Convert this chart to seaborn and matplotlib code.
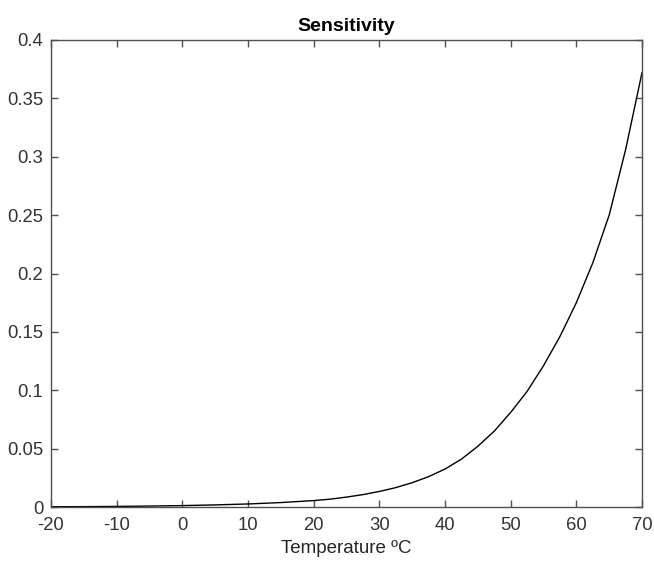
import matplotlib
matplotlib.use("Agg")
import matplotlib.pyplot as plt
import seaborn as sns
import pandas as pd

temperature = [-20, -15, -10, -5, 0, 5, 10, 15, 20, 22.5, 25, 27.5, 30, 32.5, 35, 37.5,
               40, 42.5, 45, 47.5, 50, 52.5, 55, 57.5, 60, 62.5, 65, 67.5, 70]
sensitivity = [0.0002, 0.0003, 0.0005, 0.0008, 0.0012, 0.0018, 0.0026, 0.0038, 0.0055,
               0.0067, 0.0085, 0.0106, 0.0133, 0.0166, 0.0208, 0.026, 0.0325, 0.041,
               0.052, 0.065, 0.081, 0.099, 0.121, 0.146, 0.175, 0.209, 0.250, 0.306, 0.372]
xticks = [-20, -10, 0, 10, 20, 30, 40, 50, 60, 70]
yticks = [0, 0.05, 0.1, 0.15, 0.2, 0.25, 0.3, 0.35, 0.4]
yticklabels = ["0", "0.05", "0.1", "0.15", "0.2", "0.25", "0.3", "0.35", "0.4"]

sns.set_theme(style="white")
plt.rcParams['font.family'] = ['Liberation Sans', 'DejaVu Sans']

df = pd.DataFrame({"Temperature": temperature, "Sensitivity": sensitivity})

fig = plt.figure(figsize=(6.54, 5.66), dpi=100)
ax = fig.add_axes([51/654, 1 - 507/566, (642-51)/654, (507-40)/566])
sns.lineplot(data=df, x="Temperature", y="Sensitivity", ax=ax, color="black", linewidth=1.0)

ax.set_xlim(-20, 70)
ax.set_ylim(0, 0.4)
ax.set_xticks(xticks)
ax.set_xticklabels([str(t) for t in xticks])
ax.set_yticks(yticks)
ax.set_yticklabels(yticklabels)
ax.set_xlabel("Temperature ºC", fontsize=13.5, color="#262626", labelpad=4.5)
ax.set_ylabel("")
ax.set_title("Sensitivity", fontsize=14, fontweight="bold", color="black", pad=6.5)

for s in ax.spines.values():
    s.set_visible(True)
    s.set_color("#505050")
    s.set_linewidth(1.0)
ax.tick_params(axis="both", which="both", direction="in", length=5, width=1,
               color="#505050", labelsize=13.3, labelcolor="#333333",
               top=True, right=True, bottom=True, left=True)
ax.tick_params(axis="x", pad=7)
ax.tick_params(axis="y", pad=5.5)

fig.savefig("out.png", dpi=100)
